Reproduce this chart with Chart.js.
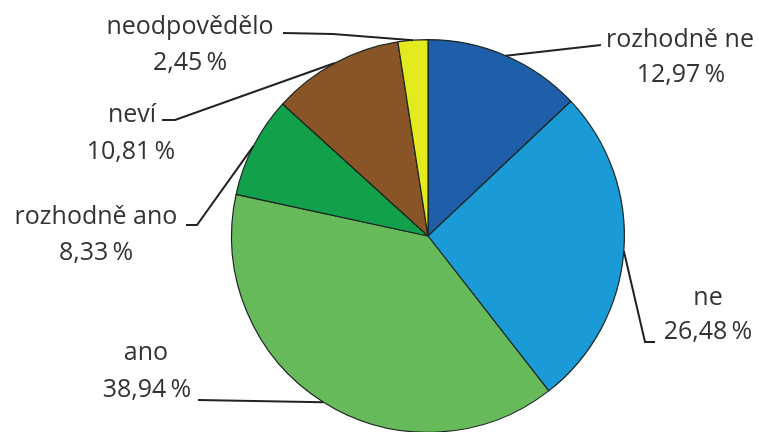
<!DOCTYPE html>
<html>
<head>
<meta charset="utf-8">
<script src="https://cdn.jsdelivr.net/npm/chart.js@4"></script>
<style>
  html, body { margin:0; padding:0; background:#fff; overflow:hidden; }
  #wrap { width:759px; height:432px; overflow:hidden; position:relative; }
</style>
</head>
<body>
<div id="wrap"><canvas id="pie" width="759" height="440"></canvas></div>
<script>
// ===== data =====
const labels = ['rozhodně ne', 'ne', 'ano', 'rozhodně ano', 'neví', 'neodpovědělo'];
const values = [12.97, 26.48, 38.94, 8.33, 10.81, 2.45];
const colors = ['#1f5ea8', '#1a9ad6', '#67ba5a', '#12a04b', '#8a5526', '#e3ea1e'];

// label text centres (name line, value line) and elbow points of the leader lines
const labelPos = [
  { name:[680,40],  val:[681,75],  line:[[601,45]] },
  { name:[708,298], val:[708,332], line:[[655,342],[645,342]] },
  { name:[146,353], val:[147,390], line:[[198,400]] },
  { name:[96,217],  val:[96,253],  line:[[186,225],[197,225]] },
  { name:[132,115], val:[131,152], line:[[162,120],[175,120]] },
  { name:[190,27],  val:[190,63],  line:[[283,33],[333,34]] }
];

const fmt = v => v.toFixed(2).replace('.', ',') + '\u2009%';

const leaderLabels = {
  id: 'leaderLabels',
  afterDatasetsDraw(chart) {
    const ctx = chart.ctx;
    const arcs = chart.getDatasetMeta(0).data;
    ctx.save();
    arcs.forEach((arc, i) => {
      const p = arc.getProps(['x','y','startAngle','endAngle','outerRadius'], true);
      const mid = (p.startAngle + p.endAngle) / 2;
      const ax = p.x + Math.cos(mid) * p.outerRadius;
      const ay = p.y + Math.sin(mid) * p.outerRadius;
      const lp = labelPos[i];
      ctx.beginPath();
      ctx.moveTo(lp.line[0][0], lp.line[0][1]);
      lp.line.slice(1).forEach(pt => ctx.lineTo(pt[0], pt[1]));
      ctx.lineTo(ax, ay);
      ctx.strokeStyle = '#222';
      ctx.lineWidth = 2;
      ctx.stroke();

      ctx.fillStyle = '#333';
      ctx.font = '25px "Open Sans", sans-serif';
      ctx.textAlign = 'center';
      ctx.textBaseline = 'middle';
      ctx.fillText(labels[i], lp.name[0], lp.name[1]);
      ctx.fillText(fmt(values[i]), lp.val[0], lp.val[1]);
    });
    ctx.restore();
  }
};

new Chart(document.getElementById('pie'), {
  type: 'pie',
  data: {
    labels: labels,
    datasets: [{
      data: values,
      backgroundColor: colors,
      borderColor: '#1a2624',
      borderWidth: 1.2
    }]
  },
  options: {
    responsive: false,
    animation: false,
    layout: { padding: { top:39, left:231, right:134, bottom:7 } },
    plugins: { legend: { display:false }, tooltip: { enabled:false } }
  },
  plugins: [leaderLabels]
});
</script>
</body>
</html>
